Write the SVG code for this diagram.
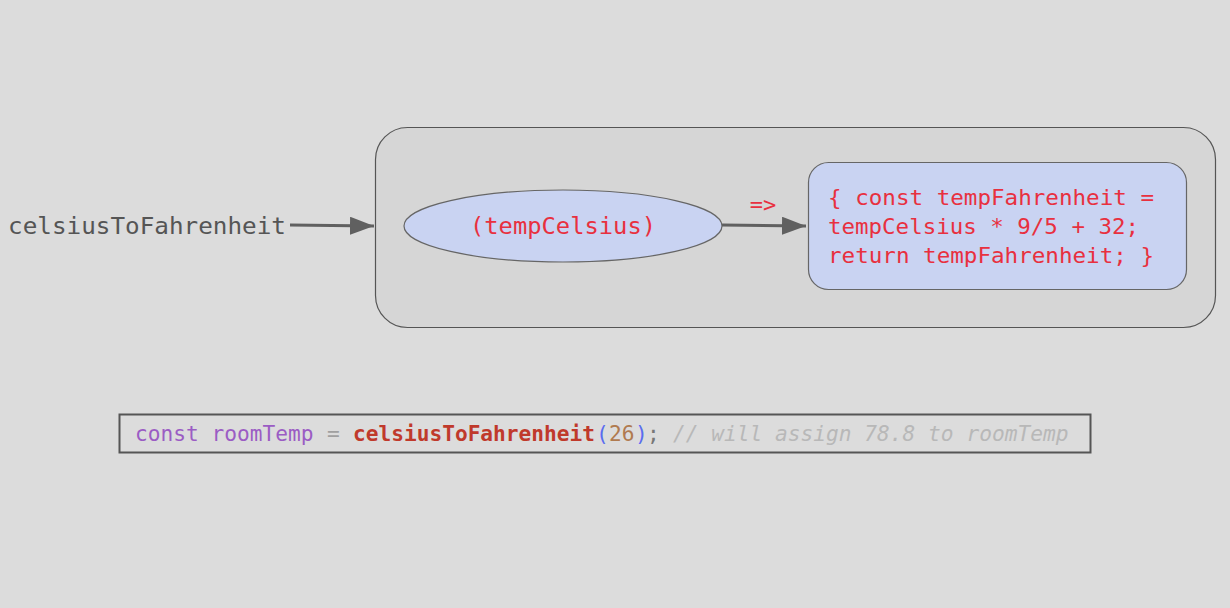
<svg xmlns="http://www.w3.org/2000/svg" width="1230" height="608" viewBox="0 0 1230 608">
<defs>
<style>
.mono{font-family:"DejaVu Sans Mono","Liberation Mono",monospace;}
.red{fill:#e8303f;}
.edge{stroke:#606060;stroke-width:3;fill:none;}
.code{font-size:21.2px;}
</style>
<marker id="ah" markerWidth="8" markerHeight="6" refX="8" refY="3" orient="auto" markerUnits="strokeWidth">
<path d="M0,0 L8,3 L0,6 Z" fill="#606060"/>
</marker>
</defs>
<rect width="1230" height="608" fill="#dcdcdc"/>
<g id="container">
<rect x="375.5" y="127.5" width="840" height="200" rx="32" fill="#d6d6d6" stroke="#555" stroke-width="1.2"/>
</g>
<g id="label">
<text class="mono" x="8" y="234" font-size="23" fill="#555" textLength="278" lengthAdjust="spacingAndGlyphs">celsiusToFahrenheit</text>
</g>
<g id="params">
<ellipse cx="563" cy="226" rx="159" ry="36" fill="#c9d3f2" stroke="#666" stroke-width="1.2"/>
<text class="mono red" x="563" y="234" font-size="23" text-anchor="middle" textLength="186" lengthAdjust="spacingAndGlyphs">(tempCelsius)</text>
</g>
<g id="body">
<rect x="808.5" y="162.5" width="378" height="127" rx="20" fill="#c9d3f2" stroke="#666" stroke-width="1.2"/>
<text class="mono red" font-size="22">
<tspan x="828" y="205" textLength="326" lengthAdjust="spacingAndGlyphs">{ const tempFahrenheit =</tspan>
<tspan x="828" y="234" textLength="311" lengthAdjust="spacingAndGlyphs">tempCelsius * 9/5 + 32;</tspan>
<tspan x="828" y="263" textLength="326" lengthAdjust="spacingAndGlyphs">return tempFahrenheit; }</tspan>
</text>
</g>
<g id="connectors">
<line class="edge" x1="290" y1="225" x2="374" y2="226" marker-end="url(#ah)"/>
<line class="edge" x1="722" y1="225" x2="806" y2="226" marker-end="url(#ah)"/>
<text class="mono red" x="763" y="212" font-size="22" text-anchor="middle">=&gt;</text>
</g>
<g id="code">
<rect x="119.5" y="414.5" width="971" height="38" fill="none" stroke="#555" stroke-width="2"/>
<text class="mono code" x="135" y="441" fill="#9b5cc4">const roomTemp</text>
<text class="mono code" x="327" y="441" fill="#a0a0a0">=</text>
<text class="mono code" x="353" y="441" fill="#c0392b" font-weight="bold" textLength="242" lengthAdjust="spacingAndGlyphs">celsiusToFahrenheit</text>
<text class="mono code" x="596" y="441" fill="#5a6cf0">(</text>
<text class="mono code" x="609" y="441" fill="#b07a4f">26</text>
<text class="mono code" x="635" y="441" fill="#5a6cf0">)</text>
<text class="mono code" x="647" y="441" fill="#777">;</text>
<text class="mono code" x="673" y="441" fill="#b8b8b8" font-style="italic">// will assign 78.8 to roomTemp</text>
</g>
</svg>
